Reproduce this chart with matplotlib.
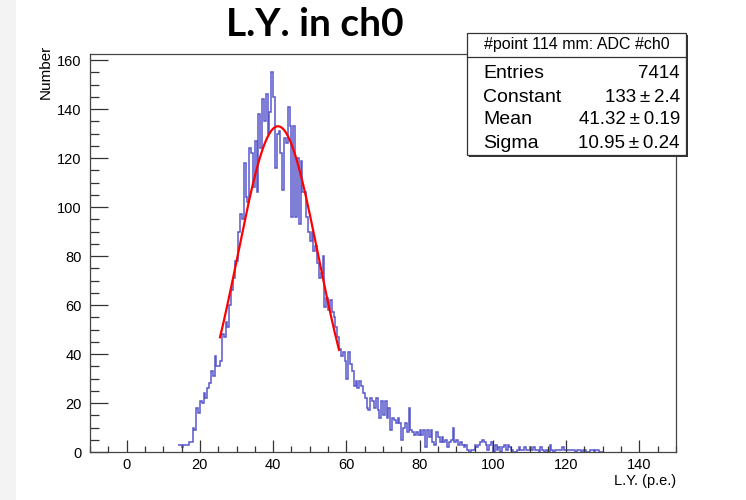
import numpy as np
import matplotlib
matplotlib.use("Agg")
import matplotlib.pyplot as plt
from matplotlib.patches import Rectangle
from matplotlib.ticker import MultipleLocator

# histogram: bins of 0.5 p.e., first bin starts at 14.0
bin_start = 14.0
bin_width = 0.5
counts = [
    3, 3, 2, 3, 3, 3,                      # 14 - 16.5
    4, 4, 10, 9, 18, 16, 21, 20, 24, 22,   # 17 - 21.5
    26, 28, 33, 31, 39, 35, 35, 37, 48, 47,  # 22 - 26.5
    53, 51, 60, 66, 71, 78, 78, 90, 97, 95,  # 27 - 31.5
    118, 104, 102, 124, 122, 108, 127, 106, 138, 124,  # 32 - 36.5
    144, 135, 146, 130, 139, 155, 145, 116, 130, 131,  # 37 - 41.5
    122, 107, 128, 126, 141, 133, 96, 133, 96, 120,  # 42 - 46.5
    93, 119, 106, 106, 96, 90, 86, 90, 82, 84,  # 47 - 51.5
    77, 71, 73, 80, 59, 63, 58, 62, 57, 55,  # 52 - 56.5
    51, 47, 42, 39, 41, 37, 30, 41, 36, 33,  # 57 - 61.5
    27, 29, 26, 29, 27, 24, 22, 18, 17, 22,  # 62 - 66.5
    21, 18, 22, 17, 14, 21, 15, 21, 14, 18,  # 67 - 71.5
    9, 14, 13, 12, 14, 12, 5, 10, 12, 8,     # 72 - 76.5
    18, 9, 8, 7, 8, 7, 9, 7, 9, 2,           # 77 - 81.5
    9, 6, 9, 4, 3, 8, 6, 4, 6, 4,            # 82 - 86.5
    5, 2, 4, 5, 10, 4, 5, 3, 4, 3,           # 87 - 91.5
    2, 3, 1, 0, 1, 1, 3, 2, 3, 4,            # 92 - 96.5
    5, 4, 3, 1, 3, 4, 0, 3, 1, 2,            # 97 - 101.5
    0, 2, 3, 1, 3, 2, 1, 0, 0, 1,            # 102 - 106.5
    2, 1, 1, 2, 1, 1, 2, 1, 2, 1,            # 107 - 111.5
    1, 0, 2, 1, 0, 1, 0, 3, 1, 0,            # 112 - 116.5
    1, 1, 1, 1, 2, 1, 1, 1, 1, 1,            # 117 - 121.5
    1, 0, 1, 1, 0, 1, 1, 0, 0, 1,            # 122 - 126.5
    1, 0, 1, 1, 0, 0,                        # 127 - 129.5
]

# gaussian fit result (from stats box)
fit_const = 133.0
fit_mean = 41.32
fit_sigma = 10.95
fit_range = (25.5, 58.0)

stats_title = "#point 114 mm: ADC #ch0"
stats_names = ["Entries", "Constant", "Mean", "Sigma"]
stats_values = ["7414", "133\u2009\u00b1\u20092.4", "41.32\u2009\u00b1\u20090.19",
                "10.95\u2009\u00b1\u20090.24"]

W, H = 746, 500
fig = plt.figure(figsize=(W / 100, H / 100), dpi=100)
fig.patch.set_facecolor("white")

def fx(px):
    return px / W

def fy(py):
    return 1 - py / H

# light grey strip on the left edge of the slide
fig.patches.append(Rectangle((0, 0), fx(16), 1, transform=fig.transFigure,
                             facecolor="#f3f3f3", edgecolor="none", zorder=0))

ax = fig.add_axes([fx(90), fy(452), fx(676) - fx(90), fy(54) - fy(452)])

edges = bin_start + bin_width * np.arange(len(counts) + 1)
ax.stairs(counts, edges, color="#5858cc", linewidth=1.1, baseline=None)

xf = np.linspace(fit_range[0], fit_range[1], 200)
yf = fit_const * np.exp(-0.5 * ((xf - fit_mean) / fit_sigma) ** 2)
ax.plot(xf, yf, color="red", linewidth=1.6)

ax.set_xlim(-10, 150)
ax.set_ylim(0, 162.5)
ax.xaxis.set_major_locator(MultipleLocator(20))
ax.xaxis.set_minor_locator(MultipleLocator(5))
ax.yaxis.set_major_locator(MultipleLocator(20))
ax.yaxis.set_minor_locator(MultipleLocator(5))
ax.tick_params(which="both", direction="in", top=False, right=False,
               colors="#333333", labelcolor="black", labelsize=10.5, width=0.9)
ax.tick_params(axis="x", which="major", length=9, pad=4)
ax.tick_params(axis="x", which="minor", length=4.5)
ax.tick_params(axis="y", which="major", length=13, pad=6)
ax.tick_params(axis="y", which="minor", length=6.5)
for s in ax.spines.values():
    s.set_color("#444444")
    s.set_linewidth(0.9)
for lab in ax.get_xticklabels() + ax.get_yticklabels():
    lab.set_family("Liberation Sans")

fig.text(fx(676), fy(481), "L.Y. (p.e.)", ha="right", va="center",
         fontsize=10.5, family="Liberation Sans")
fig.text(fx(46), fy(45), "Number", ha="center", va="top", rotation=90,
         fontsize=11, family="Liberation Sans")

# title
fig.text(fx(315), fy(24), "L.Y. in ch0", ha="center", va="center",
         fontsize=28, fontweight="bold", family="Lato")

# stats box
bx0, bx1, by0, by1 = 467, 686, 33, 155
fig.patches.append(Rectangle((fx(bx0 + 2), fy(by1 + 2)), fx(bx1) - fx(bx0), fy(by0) - fy(by1),
                             transform=fig.transFigure, facecolor="#333333",
                             edgecolor="none", zorder=4))
fig.patches.append(Rectangle((fx(bx0), fy(by1)), fx(bx1) - fx(bx0), fy(by0) - fy(by1),
                             transform=fig.transFigure, facecolor="white",
                             edgecolor="#333333", linewidth=0.9, zorder=5))
fig.add_artist(plt.Line2D([fx(bx0), fx(bx1)], [fy(57), fy(57)], transform=fig.transFigure,
                          color="#333333", linewidth=0.9, zorder=6))
fig.text(fx((bx0 + bx1) / 2), fy(45), stats_title, ha="center", va="center",
         fontsize=11.5, family="Liberation Sans", zorder=7)
rows_y = [73, 97, 120, 143]
for name, val, ry in zip(stats_names, stats_values, rows_y):
    fig.text(fx(483), fy(ry), name, ha="left", va="center", fontsize=14,
             family="Liberation Sans", zorder=7)
    fig.text(fx(680), fy(ry), val, ha="right", va="center", fontsize=13.5,
             family="Liberation Sans", zorder=7)

fig.savefig("out.png", dpi=100)
